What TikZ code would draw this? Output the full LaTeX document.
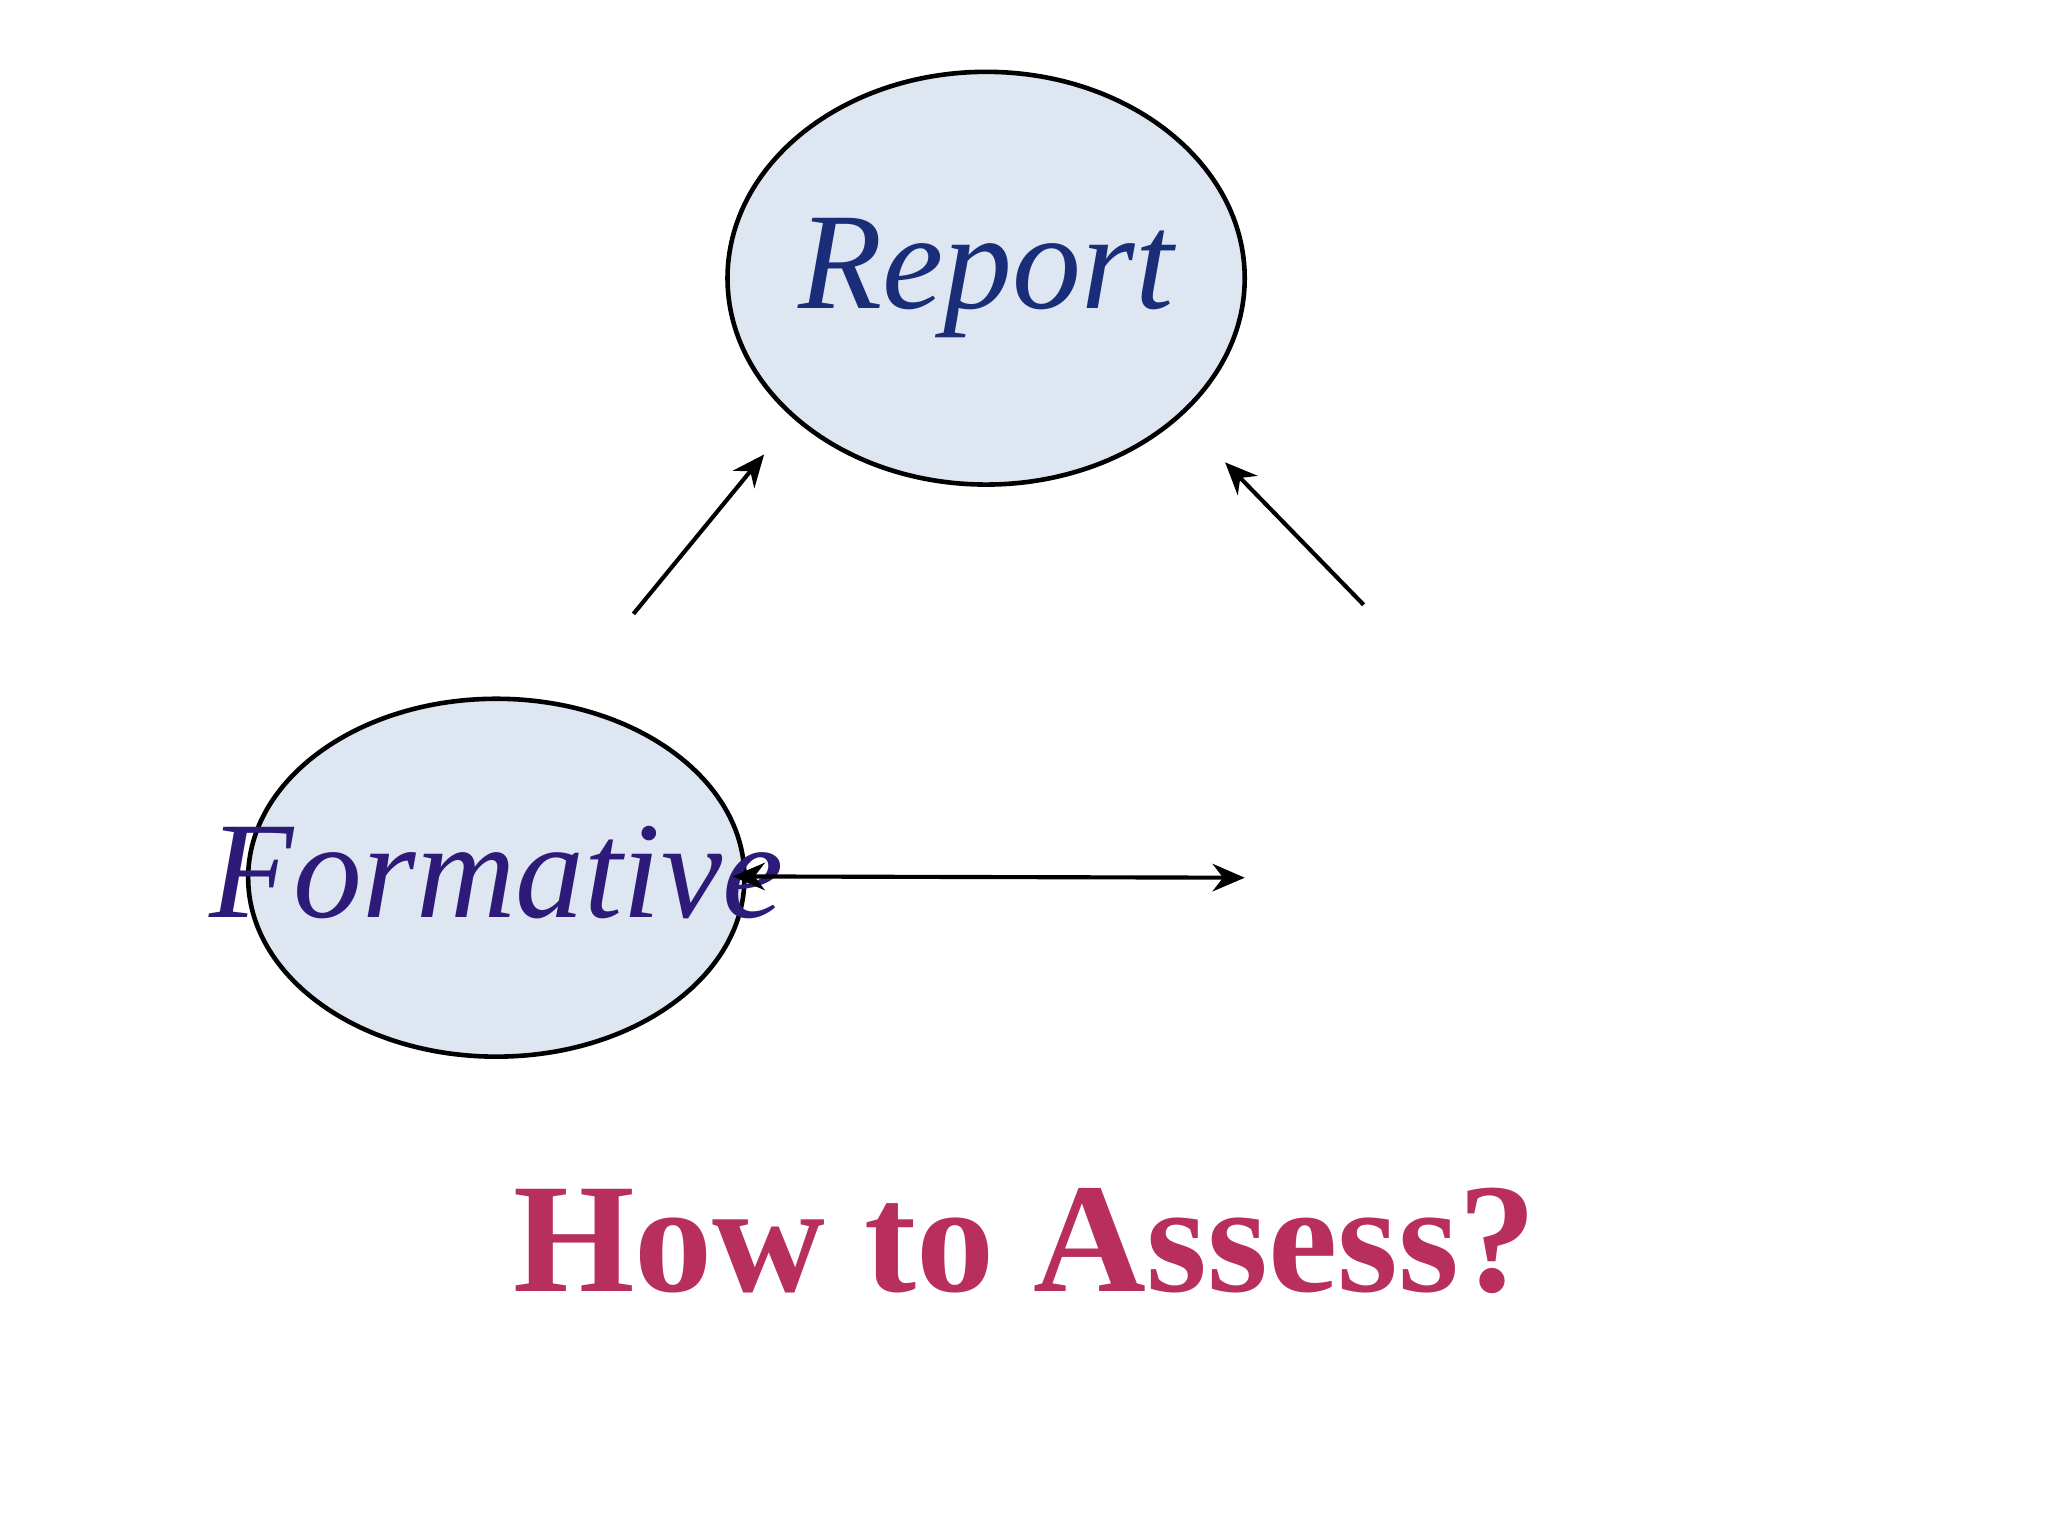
\documentclass[tikz,border=0pt]{standalone}
\usepackage{fontspec}
\setmainfont{Liberation Serif}
\usetikzlibrary{arrows.meta}
\definecolor{bub}{HTML}{DDE6F1}
\definecolor{titlec}{HTML}{B82E5C}
\definecolor{txtb}{HTML}{1A2D78}
\definecolor{txtp}{HTML}{2E1A78}
\begin{document}
\begin{tikzpicture}[x=0.01cm,y=-0.01cm,
  bubble/.style={draw=black,line width=1pt,fill=bub,ellipse},
  arr/.style={-{Stealth[length=7pt,width=6pt]},line width=0.9pt},
  lab/.style={font=\itshape\fontsize{30}{30}\selectfont}]
\useasboundingbox (0,0) rectangle (1568,1176);
\fill[white] (0,0) rectangle (1568,1176);
\fill[bub,draw=black,line width=1pt] (755,213) ellipse [x radius=198, y radius=158];
\fill[bub,draw=black,line width=1pt] (380,672) ellipse [x radius=190, y radius=137];
\node[lab,text=txtb] (rep) at (755,213) {Report};
\node[lab,text=txtp] (form) at (380,668) {Formative};
\coordinate (a1s) at (485,470); \coordinate (a1e) at (585,348);
\coordinate (a2s) at (1044,463); \coordinate (a2e) at (938,354);
\coordinate (b1) at (561,671); \coordinate (b2) at (953,672);
\draw[arr] (a1s) -- (a1e);
\draw[arr] (a2s) -- (a2e);
\draw[{Stealth[length=7pt,width=6pt]}-{Stealth[length=7pt,width=6pt]},line width=0.9pt] (b1) -- (b2);
\node[text=titlec,font=\bfseries\fontsize{34}{34}\selectfont] (title) at (785,950) {How to Assess?};
\end{tikzpicture}
\end{document}
